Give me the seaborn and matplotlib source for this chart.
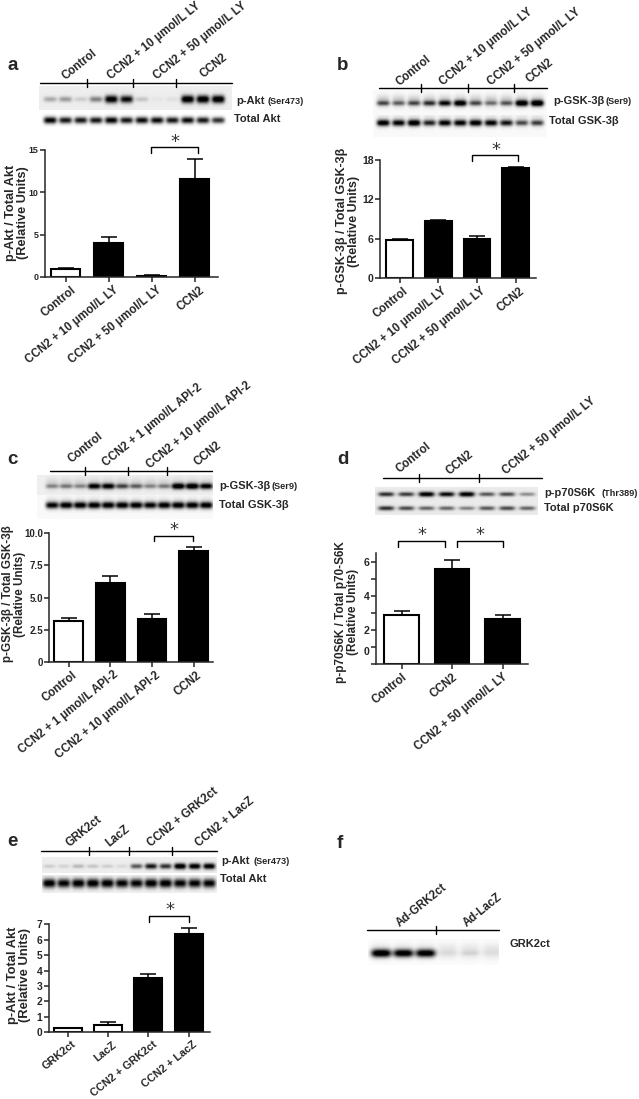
import numpy as np
import pandas as pd
import seaborn as sns
import matplotlib.pyplot as plt
from matplotlib.transforms import ScaledTranslation

# bar panels
a_labels = ["Control", "CCN2 + 10 μmol/L LY", "CCN2 + 50 μmol/L LY", "CCN2"]
a_values = [0.9, 4.0, 0.15, 11.6]
a_errors = [0.2, 0.7, 0.03, 2.3]

b_labels = ["Control", "CCN2 + 10 μmol/L LY", "CCN2 + 50 μmol/L LY", "CCN2"]
b_values = [5.8, 8.6, 6.0, 16.8]
b_errors = [0.2, 0.2, 0.4, 0.15]

c_labels = ["Control", "CCN2 + 1 μmol/L API-2", "CCN2 + 10 μmol/L API-2", "CCN2"]
c_values = [3.2, 6.1, 3.3, 8.6]
c_errors = [0.2, 0.6, 0.4, 0.35]

d_labels = ["Control", "CCN2", "CCN2 + 50 μmol/L LY"]
d_values = [2.9, 5.6, 2.67]
d_errors = [0.22, 0.54, 0.21]

e_labels = ["GRK2ct", "LacZ", "CCN2 + GRK2ct", "CCN2 + LacZ"]
e_values = [0.25, 0.5, 3.5, 6.4]
e_errors = [0.05, 0.2, 0.3, 0.35]

# blot band darkness, one value per lane
a_phospho = [.25, .3, .12, .4, .95, .85, .15, .03, .05, 1, 1, 1]
a_total = [.95, .85, .85, .85, .95, .85, .9, .9, .85, .9, .85, .75]
b_phospho = [.5, .4, .5, .6, .75, .9, .5, .35, .45, .95, 1]
b_total = [.9, .85, .95, .7, .85, .85, .9, .85, .75, .55, .6]
c_phospho = [.3, .35, .3, .85, .85, .55, .45, .3, .35, .95, .95, .85]
c_total = [.85, .9, .9, .9, .9, .9, .9, .85, .9, .9, .9, .9]
d_phospho = [.7, .65, .95, .85, .95, .55, .6, .35]
d_total = [.7, .6, .5, .5, .4, .55, .6, .5]
e_phospho = [.12, .1, .2, .15, .12, .08, .55, .8, .7, 1, .95, .95]
e_total = [.95, .9, .95, .95, .95, .9, .9, .95, .95, .9, .9, .9]
f_band = [1, .95, .95, .03, .06, .02]

W, H = 639, 1099

sns.set_style("ticks")
plt.rcParams['font.family'] = ['Liberation Sans', 'DejaVu Sans']
plt.rcParams['font.weight'] = 'bold'
FS = 8.3

fig = plt.figure(figsize=(W / 100, H / 100), dpi=100)

# pixel overlay for blots and annotations
ov = fig.add_axes([0, 0, 1, 1], zorder=5)
ov.set_xlim(0, W)
ov.set_ylim(H, 0)
ov.axis('off')
ov.set_autoscale_on(False)


def bar_panel(labels, values, errors, left, right, top, bottom, ymax, ticks, ticklabels,
              x0, step, tick_fs=7.0, shift=0, label_fs=FS):
    ax = fig.add_axes([left / W, 1 - bottom / H, (right - left) / W, (bottom - top) / H])
    df = pd.DataFrame({"group": labels, "value": values})
    colors = ["white" if l in ("Control", "GRK2ct", "LacZ") else "black" for l in labels]
    sns.barplot(data=df, x="group", y="value", hue="group", palette=colors, legend=False,
                width=0.69, edgecolor="black", linewidth=1.5, errorbar=None, ax=ax)
    ax.errorbar(range(len(values)), values, yerr=[[0] * len(values), errors], fmt="none",
                ecolor="black", elinewidth=1.1, capsize=5.5, capthick=1.1, zorder=1)
    ax.set_xlim((left - x0) / step, (right - x0) / step)
    ax.set_ylim(0, ymax)
    ax.set_yticks(ticks, ticklabels)
    ax.set_xticks(range(len(labels)), labels)
    ax.set(xlabel="", ylabel="")
    ax.patch.set_alpha(0)
    ax.tick_params(axis='y', labelsize=tick_fs, width=1.1, length=3.5, pad=1)
    ax.tick_params(axis='x', labelsize=label_fs, width=1.1, length=3.5, pad=1.5)
    for t in ax.get_xticklabels():
        t.set_rotation(39)
        t.set_ha("right")
        t.set_va("top")
        t.set_rotation_mode("anchor")
        t.set_transform(t.get_transform() + ScaledTranslation(shift / 100, 0, fig.dpi_scale_trans))
    for s in ("left", "bottom"):
        ax.spines[s].set_linewidth(1.1)
    sns.despine(ax=ax)
    return ax


def blot(region, first, last, rows, band_w=6.5, band_h=2.6, bg=0.95, halo=0.0):
    x0, x1, y0, y1 = region
    xs, ys = np.meshgrid(np.arange(x0, x1, 0.5), np.arange(y0, y1, 0.5))
    dark = np.zeros_like(xs)
    for y, lanes in rows:
        centers = np.linspace(first, last, len(lanes))
        for cx, level in zip(centers, lanes):
            px = np.exp(-((xs - cx) / band_w) ** 4)
            dark += level * px * np.exp(-((ys - y) / (band_h * (0.65 + 0.5 * level))) ** 2)
            dark += halo * px * np.exp(-((ys - y + 2) / (band_h * 2.2)) ** 2)
    ov.imshow(np.clip(bg - dark * 1.1, 0, 1), cmap="gray", vmin=0, vmax=1, aspect="auto",
              extent=(x0, x1, y1, y0), interpolation="bilinear", zorder=1)


def group_line(y, x0, x1, ticks):
    ov.plot([x0, x1], [y, y], color="black", lw=1.0, zorder=3)
    for t in ticks:
        ov.plot([t, t], [y - 4, y + 4], color="black", lw=1.0, zorder=3)


def top_labels(items):
    for txt, x, y in items:
        ov.text(x + 3, y, txt, rotation=39, ha="left", va="baseline", rotation_mode="anchor",
                fontsize=FS, zorder=4)


def side_label(x, y, txt, small=None, small_x=None):
    ov.text(x, y, txt, ha="left", va="center", fontsize=8.0, zorder=4)
    if small:
        ov.text(small_x, y + 0.5, small, ha="left", va="center", fontsize=6.6, zorder=4)


def bracket(x0, x1, top, down, star_y):
    ov.plot([x0, x0, x1, x1], [down, top, top, down], color="black", lw=1.0, zorder=3)
    ov.text((x0 + x1) / 2 + 0.5, star_y, "*", family="DejaVu Sans", weight="normal",
            fontsize=13, ha="center", va="baseline", color="#333333", zorder=4)


def ylab(x, y, line1, line2, size):
    ov.text(x, y, line1 + "\n" + line2, rotation=90, ha="center", va="center",
            multialignment="center", fontsize=size, linespacing=1.0, zorder=4)


def letter(x, y, s):
    ov.text(x, y, s, fontsize=13.5, ha="left", va="baseline", zorder=4)


# panel a
bar_panel(a_labels, a_values, a_errors, 44.7, 218, 150, 277, 15, [0, 5, 10, 15],
          ["0", "5", "10", "15"], 65.5, 43, tick_fs=6.4, shift=5)
blot((39, 232, 86, 110), 50, 218, [(99, a_phospho)], band_h=3.4, bg=0.93)
blot((39, 232, 113, 127), 50, 218, [(120, a_total)], band_h=3.0, bg=1.0)
group_line(82.7, 40, 232, [87, 133, 176])
top_labels([(a_labels[0], 62, 80), (a_labels[1], 108, 80), (a_labels[2], 154, 80), (a_labels[3], 201, 78)])
side_label(236, 101, "p-Akt", "(Ser473)", 268)
side_label(234, 119, "Total Akt")
bracket(151, 198, 147, 153, 147)
ylab(17.5, 213, "p-Akt / Total Akt", "(Relative Units)", 9.2)
letter(7, 70, "a")

# panel b
bar_panel(b_labels, b_values, b_errors, 380, 536, 159.7, 278, 18, [0, 6, 12, 18],
          ["0", "6", "12", "18"], 399.7, 38.7, tick_fs=7.6, shift=3)
blot((373, 547, 90, 115), 383, 537, [(103, b_phospho)], bg=0.98, halo=0.2)
blot((373, 547, 115, 137), 383, 537, [(122.7, b_total)], bg=0.98, band_h=2.8, halo=0.12)
group_line(88, 379, 547, [421, 468, 514])
top_labels([(b_labels[0], 397, 86), (b_labels[1], 440, 86), (b_labels[2], 488, 86), (b_labels[3], 527, 83)])
side_label(553, 101, "p-GSK-3β", "(Ser9)", 606)
side_label(549, 121, "Total GSK-3β")
bracket(472, 518, 155, 161, 155)
ylab(348, 221, "p-GSK-3β / Total GSK-3β", "(Relative Units)", 9.0)
letter(337, 70, "b")

# panel c
bar_panel(c_labels, c_values, c_errors, 49.3, 213, 533, 662, 10, [0, 2.5, 5, 7.5, 10],
          ["0", "2.5", "5.0", "7.5", "10.0"], 68.8, 41.6, tick_fs=7.0, shift=3)
blot((37, 213, 475, 495), 52, 206, [(486, c_phospho)], bg=0.94, halo=0.12)
blot((37, 213, 495, 519), 52, 206, [(505, c_total)], bg=0.98, band_h=3, halo=0.1)
group_line(471, 50, 212, [85, 128, 167])
top_labels([(c_labels[0], 68, 463), (c_labels[1], 103, 467), (c_labels[2], 147, 469), (c_labels[3], 195, 466)])
side_label(219, 486, "p-GSK-3β", "(Ser9)", 272)
side_label(219, 505, "Total GSK-3β")
bracket(154, 193, 536, 541, 535)
ylab(14, 594, "p-GSK-3β / Total GSK-3β", "(Relative Units)", 8.4)
letter(7, 464, "c")

# panel d
bar_panel(d_labels, d_values, d_errors, 376, 528, 553, 664, 6.53, [0, 1, 2, 3, 4, 5, 6],
          ["", "", "2", "", "4", "", "6"], 401.7, 50.4, tick_fs=7.6, shift=0)
ov.text(370, 652, "0", ha="right", va="center", fontsize=7.6, zorder=4)
blot((375, 538, 487, 515), 386, 527, [(494, d_phospho), (508, d_total)], band_w=8, band_h=2.2, bg=0.92)
group_line(478, 383, 542, [419, 479])
top_labels([(d_labels[0], 396, 473), (d_labels[1], 446, 475), (d_labels[2], 503, 475)])
side_label(544, 493, "p-p70S6K", "(Thr389)", 602)
side_label(544, 508, "Total p70S6K")
bracket(398, 445, 541, 547, 540)
bracket(456.5, 503, 541, 547, 540)
ylab(347, 612, "p-p70S6K / Total p70-S6K", "(Relative Units)", 8.5)
letter(337, 464, "d")

# panel e
bar_panel(e_labels, e_values, e_errors, 48.7, 210, 924.3, 1032.3, 7, list(range(8)),
          [str(i) for i in range(8)], 67.8, 40.3, tick_fs=7.4, shift=4, label_fs=7.8)
blot((42, 217, 857, 873), 49, 209, [(866, e_phospho)], band_w=6, band_h=2.6, bg=0.93)
blot((42, 217, 875, 893), 49, 209, [(883, e_total)], band_w=6.5, band_h=4.0, bg=0.95)
group_line(851, 41, 217, [89, 129, 172])
top_labels([(e_labels[0], 66, 847), (e_labels[1], 106, 847), (e_labels[2], 148, 847), (e_labels[3], 196, 847)])
side_label(221, 861, "p-Akt", "(Ser473)", 253)
side_label(220, 879, "Total Akt")
bracket(149, 189, 915.5, 922, 915)
ylab(19, 975, "p-Akt / Total Akt", "(Relative Units)", 9.4)
letter(7, 846, "e")

# panel f
blot((368, 499, 939, 965), 381, 492, [(953, f_band)], band_w=10, band_h=3.4, bg=0.99, halo=0.1)
group_line(930, 367, 499, [436])
top_labels([("Ad-GRK2ct", 397, 927), ("Ad-LacZ", 464, 927)])
side_label(509, 944, "GRK2ct")
letter(337, 848, "f")

ov.set_xlim(0, W)
ov.set_ylim(H, 0)
fig.savefig("out.png", dpi=100)
